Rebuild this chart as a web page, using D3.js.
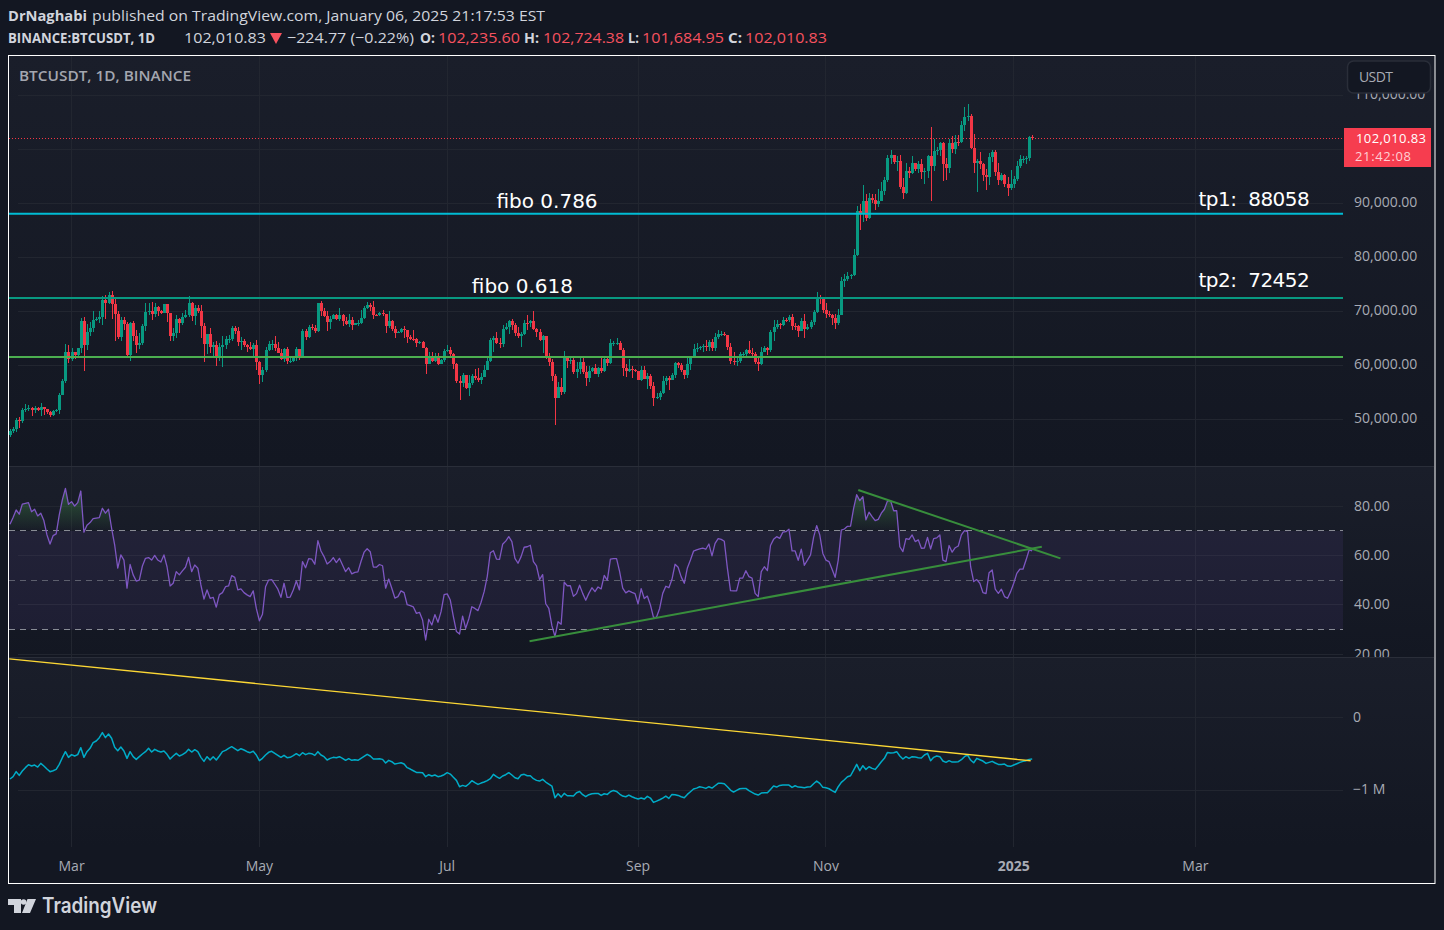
<!DOCTYPE html>
<html><head><meta charset="utf-8">
<style>
html,body{margin:0;padding:0;background:#131722;overflow:hidden}
svg{display:block}
text{font-family:"Open Sans",sans-serif;white-space:pre}
.noline .domain{display:none}
</style>
<script src="https://cdnjs.cloudflare.com/ajax/libs/d3/7.8.5/d3.min.js"></script>
</head><body><svg id="c" width="1444" height="930"></svg>
<script>
// ---------- DATA (prices in thousands of USDT, one line per month) ----------
const firstOpen = 47.13;
const closes = [
47.75,48.29,49.96,49.70,51.80,51.91,52.13,51.65,52.12,51.78,52.27,51.85,51.30,50.73,51.57,51.73,54.48,57.04,62.47,61.13,
62.39,61.99,63.13,68.24,63.80,66.10,66.90,68.30,68.50,69.02,72.12,71.48,73.07,71.39,69.50,65.30,68.39,67.60,61.94,67.84,65.50,63.80,64.04,67.21,69.88,69.99,69.45,70.78,70.00,69.64,71.33,
69.70,65.46,65.96,68.49,67.84,68.90,69.36,71.62,69.13,70.58,70.06,67.19,63.90,65.74,63.42,63.79,61.28,63.47,63.82,64.94,64.94,66.84,66.41,64.28,64.50,63.77,63.46,63.11,63.84,60.64,
58.25,59.12,62.89,63.89,64.03,63.16,62.33,61.19,63.05,60.79,60.82,61.48,62.94,61.58,66.27,65.23,67.05,66.94,66.28,71.45,70.14,69.12,67.93,68.53,69.27,68.50,69.39,68.29,67.63,68.35,67.53,
67.76,67.76,68.80,70.57,71.08,70.79,69.35,69.31,69.65,69.50,67.32,68.24,66.75,66.01,66.19,66.64,66.49,65.15,64.96,64.83,64.10,64.25,63.18,60.28,61.81,60.84,61.68,60.32,60.89,62.68,
62.77,62.02,60.20,57.03,56.64,58.23,55.86,56.71,58.05,57.72,57.34,57.89,59.20,60.79,64.72,65.04,64.09,63.97,66.71,67.15,68.16,67.53,65.93,65.37,65.80,67.90,67.81,68.25,66.78,66.19,64.62,
65.35,61.50,60.70,58.11,53.99,56.03,55.03,61.71,60.88,60.94,58.71,59.35,60.61,58.74,57.56,58.87,59.49,58.44,59.49,59.03,61.16,60.38,64.04,64.16,64.22,62.83,59.42,59.03,59.37,59.12,58.97,
57.30,59.13,57.48,57.97,56.18,53.95,54.16,54.87,57.05,57.65,57.34,58.13,60.50,60.00,59.13,58.21,60.31,61.76,62.95,63.20,63.35,63.57,63.33,64.26,63.15,65.17,65.77,65.86,65.60,63.33,
60.80,60.65,60.75,62.08,62.09,62.82,62.22,62.13,60.58,60.27,62.45,63.19,62.85,66.08,67.04,67.62,67.42,68.43,68.38,69.03,67.37,67.36,66.43,68.16,66.64,67.01,67.93,69.91,72.72,72.34,70.29,
69.49,69.37,68.78,67.81,69.36,75.64,75.90,76.54,76.68,80.37,88.65,87.95,90.38,87.25,91.07,90.58,89.85,90.47,92.31,94.29,98.35,98.92,97.67,97.90,93.01,91.96,95.96,95.65,97.46,96.41,
97.19,95.84,96.00,98.77,96.96,99.74,99.83,101.11,97.34,96.59,101.12,100.00,101.42,101.37,104.46,106.06,106.14,100.20,97.46,97.76,97.22,95.19,94.88,98.66,99.43,95.79,94.30,95.28,93.57,92.78,93.57,
94.59,96.98,98.15,98.20,98.36,102.24,102.01];
const highs = [
48.16,48.59,50.33,50.37,52.04,52.82,52.57,52.25,52.48,52.37,52.98,52.37,52.00,51.55,51.70,51.95,54.90,57.55,64.00,63.68,
63.20,62.40,63.20,68.80,69.00,67.60,67.98,70.00,68.95,70.00,72.80,73.00,73.65,73.78,72.40,70.00,68.90,68.90,68.10,68.00,68.20,66.60,65.95,67.60,71.50,71.55,71.70,71.55,70.90,70.30,71.37,
71.37,69.70,66.90,69.30,68.70,69.70,70.30,72.80,71.75,71.20,71.25,71.20,67.90,65.80,66.90,64.35,64.50,64.10,65.50,65.40,65.70,67.20,67.20,67.05,65.30,64.80,63.90,64.40,64.20,64.70,
60.78,59.60,63.30,64.50,64.60,65.50,64.40,63.00,63.20,63.45,61.40,61.80,63.40,63.10,66.70,66.80,67.40,67.70,67.50,71.50,71.95,70.60,70.10,69.20,69.50,69.50,70.60,69.50,68.90,69.50,69.00,
67.85,68.40,70.30,71.05,71.75,71.60,71.99,69.50,69.90,70.20,69.55,70.00,68.45,67.30,66.40,67.00,67.30,66.60,65.70,66.50,65.00,64.50,64.50,63.40,62.40,62.50,62.30,62.20,61.20,63.00,
63.80,63.30,62.30,60.50,58.00,58.50,58.20,58.20,58.30,59.40,59.50,58.50,60.00,61.40,65.00,65.40,66.10,65.10,67.40,67.80,68.40,68.50,67.80,67.10,66.10,68.30,69.40,68.30,70.00,66.90,66.80,
65.60,65.00,62.20,61.10,58.30,57.00,57.70,62.70,61.70,61.40,61.80,60.70,61.60,61.80,59.80,59.80,59.70,60.20,59.60,61.40,61.80,61.40,64.90,64.50,65.00,64.50,63.20,60.20,61.20,59.90,59.40,
59.00,59.80,59.80,58.50,58.30,57.00,54.80,55.30,58.10,58.00,58.00,58.60,60.70,60.60,60.40,59.20,61.30,61.80,63.90,64.10,63.60,64.00,64.70,64.70,64.80,65.90,66.50,66.30,66.10,65.60,
64.10,62.40,61.50,62.50,62.40,63.00,64.50,63.20,62.50,61.30,63.40,63.50,63.30,66.50,68.40,68.40,67.90,69.00,68.70,69.40,69.50,67.80,67.40,68.80,69.50,67.70,68.30,70.30,73.60,72.96,72.70,
71.60,70.00,69.50,69.50,70.50,76.40,76.90,77.20,76.90,81.50,89.50,89.90,93.30,91.80,91.85,91.80,91.70,92.60,94.00,94.90,99.00,99.80,98.80,98.70,98.90,94.70,97.40,96.70,98.70,97.50,
97.80,98.20,96.50,99.00,104.09,102.00,100.50,101.40,101.35,98.30,101.90,102.55,102.65,102.60,105.25,107.80,108.35,106.50,102.80,98.20,99.50,97.40,96.40,99.40,99.96,99.90,97.40,95.70,95.40,94.90,96.10,
95.00,97.80,98.97,98.80,98.80,102.50,102.72];
const lows = [
46.80,47.55,47.70,48.30,49.25,51.33,51.60,50.60,51.20,51.60,50.60,50.80,50.90,50.50,50.60,51.30,50.90,54.45,56.70,60.40,
60.80,61.10,61.30,62.30,59.00,62.80,65.50,66.20,68.20,67.80,67.40,68.60,71.30,68.50,64.50,64.80,64.55,66.60,61.50,60.80,64.50,62.30,63.00,63.80,66.40,69.30,68.40,68.90,69.10,69.50,69.60,
68.10,64.50,64.50,65.10,66.00,67.50,68.70,69.00,68.20,67.50,69.60,65.10,60.70,62.10,62.30,61.60,59.80,60.80,59.60,63.10,64.20,64.50,65.80,63.60,62.80,63.30,62.40,62.80,61.80,59.10,
56.55,56.90,58.80,62.60,62.90,62.70,62.20,60.90,60.60,60.20,60.50,60.60,60.75,60.90,61.30,64.60,65.10,66.60,65.90,66.10,69.20,68.90,66.30,66.70,68.50,68.30,68.20,67.30,67.50,67.10,66.60,
67.40,67.30,67.60,68.50,70.40,70.10,68.50,69.20,69.10,69.20,66.05,66.90,66.30,65.10,65.90,66.00,65.10,64.10,64.70,64.50,63.40,63.90,63.20,58.40,60.20,60.70,60.60,60.00,60.40,60.70,
62.50,61.80,59.40,56.80,53.50,56.00,55.70,54.30,56.30,57.20,56.90,56.50,57.80,59.20,60.60,62.40,63.90,63.20,63.30,66.60,65.80,66.50,65.40,65.10,63.40,65.70,66.60,67.10,66.50,65.30,64.50,
62.30,61.20,59.80,57.10,49.00,53.90,54.50,54.70,59.50,60.30,58.40,57.60,58.40,58.40,56.10,57.00,58.80,58.40,57.80,58.60,58.80,59.80,60.30,63.60,63.80,62.80,58.10,57.90,58.80,57.70,58.70,
57.20,57.10,57.40,55.60,55.70,52.55,53.70,53.60,54.60,56.40,55.50,57.30,57.60,59.50,58.70,57.50,57.60,59.20,61.60,62.40,62.80,62.40,62.70,62.70,62.70,62.70,64.80,65.40,65.40,62.90,
60.20,60.00,59.80,60.50,61.70,61.80,62.10,61.80,60.30,58.90,60.00,62.40,62.00,62.40,64.50,66.70,66.70,67.20,68.00,68.10,66.60,66.60,65.30,66.40,65.10,66.50,66.80,67.50,69.70,71.40,69.60,
68.80,69.00,67.50,66.80,67.50,69.30,74.50,75.60,75.90,76.50,80.20,85.10,86.60,86.70,87.10,90.10,88.70,89.40,90.40,91.50,94.00,97.20,97.20,95.90,92.60,90.80,91.80,94.60,95.40,96.00,
95.70,94.50,93.60,94.60,90.50,95.90,98.90,98.70,94.15,94.30,95.70,99.30,99.20,100.60,101.20,103.30,105.30,100.00,95.70,92.10,96.40,94.20,92.40,93.40,97.60,95.10,93.40,94.10,93.00,91.30,92.50,
92.80,94.20,96.50,97.50,97.30,97.90,101.68];
const rsi = [
72.7,75.5,78.5,76.8,80.9,81.2,81.5,77.8,78.8,76.1,
77.2,74.2,68.4,64.7,68.1,68.8,76.5,82.6,87.3,80.8,
81.9,80.1,81.5,86.2,69.5,72.3,73.4,75.0,75.2,75.4,
79.2,77.2,78.8,71.1,64.3,54.9,60.3,58.2,46.8,56.4,
52.2,49.7,50.1,55.8,58.9,59.2,58.2,60.1,58.2,57.4,
60.3,55.5,47.7,48.8,53.5,52.2,53.8,55.3,59.3,53.5,
56.2,54.9,48.1,42.4,46.1,42.7,43.1,39.1,44.2,45.0,
47.4,47.7,51.9,51.2,46.1,46.5,45.0,44.1,43.4,45.7,
38.6,33.6,36.2,47.4,50.1,50.3,48.4,46.4,43.1,48.8,
43.1,43.2,46.1,49.7,46.1,57.6,55.1,58.8,58.6,56.5,
66.1,61.9,59.6,56.6,57.6,59.2,57.2,58.9,56.2,53.5,
55.1,52.6,53.2,53.4,57.6,61.4,62.8,61.6,55.4,55.3,
56.4,55.9,46.8,50.5,46.8,42.8,43.4,45.7,45.0,40.1,
39.7,39.2,36.6,37.0,33.9,25.8,34.2,31.9,36.1,33.0,
37.3,44.2,44.5,42.0,35.3,29.2,28.2,35.5,30.5,34.3,
39.3,38.6,37.7,41.1,45.4,51.5,61.2,62.0,58.6,58.5,
64.6,65.9,67.7,65.7,58.9,56.9,59.6,63.4,63.6,64.2,
57.6,55.8,50.3,52.3,40.5,38.6,31.6,27.2,33.2,32.2,
49.2,47.8,47.8,43.5,44.6,48.0,44.7,41.9,44.7,47.0,
45.4,47.3,46.5,52.0,50.0,58.6,58.8,58.8,53.5,46.8,
44.9,45.7,45.1,44.6,40.4,46.6,42.6,43.6,40.0,35.0,
35.1,38.6,44.7,47.6,47.0,50.4,56.5,55.3,51.4,48.8,
55.0,58.2,61.8,62.3,62.7,63.0,62.6,64.7,59.9,65.0,
66.9,66.6,65.8,54.9,45.8,45.7,45.7,50.9,50.9,53.9,
51.5,50.9,44.7,43.4,53.5,55.5,53.9,64.1,66.6,67.7,
67.0,69.5,69.7,70.7,61.9,61.9,58.1,62.6,56.1,58.2,
60.3,67.4,72.2,68.4,60.9,58.2,57.6,54.5,51.2,58.2,
70.3,70.8,71.9,72.0,79.2,84.7,82.3,83.9,74.5,77.6,
75.8,74.2,74.7,77.2,78.8,82.2,82.3,78.2,78.2,63.6,
61.6,66.9,66.6,68.4,65.7,66.4,63.0,63.1,67.4,62.7,
66.9,67.2,68.4,58.2,57.6,64.1,61.4,63.2,63.9,68.4,
70.1,69.7,55.5,49.5,50.3,48.8,45.0,44.6,53.1,54.2,
46.4,44.7,46.4,43.4,42.7,45.4,48.8,52.8,54.5,54.5,
58.2,62.3,61.9];
// Lower pane series, in millions
const obv = [
-.846,-.814,-.745,-.796,-.736,-.690,-.649,-.667,-.654,-.681,
-.631,-.667,-.709,-.745,-.732,-.713,-.644,-.553,-.470,-.548,
-.511,-.530,-.511,-.415,-.548,-.470,-.424,-.346,-.323,-.277,
-.208,-.277,-.227,-.286,-.410,-.456,-.406,-.461,-.562,-.470,
-.539,-.576,-.539,-.502,-.470,-.424,-.475,-.438,-.461,-.475,
-.461,-.507,-.571,-.530,-.493,-.530,-.511,-.484,-.438,-.475,
-.443,-.470,-.548,-.603,-.539,-.585,-.539,-.585,-.530,-.470,
-.452,-.424,-.401,-.429,-.456,-.429,-.447,-.470,-.484,-.465,
-.516,-.594,-.562,-.516,-.479,-.465,-.493,-.521,-.548,-.521,
-.553,-.548,-.525,-.498,-.525,-.484,-.511,-.493,-.498,-.521,
-.470,-.516,-.539,-.585,-.562,-.548,-.553,-.539,-.562,-.589,
-.566,-.589,-.580,-.589,-.562,-.534,-.507,-.530,-.571,-.571,
-.566,-.576,-.626,-.589,-.608,-.640,-.631,-.622,-.640,-.690,
-.709,-.732,-.755,-.755,-.759,-.814,-.787,-.805,-.791,-.814,
-.805,-.787,-.759,-.778,-.823,-.865,-.952,-.934,-.947,-.915,
-.869,-.897,-.920,-.902,-.888,-.869,-.842,-.782,-.814,-.837,
-.805,-.787,-.759,-.791,-.828,-.842,-.792,-.782,-.801,-.801,
-.842,-.865,-.874,-.851,-.888,-.916,-.943,-1.104,-1.049,-1.095,
-1.044,-1.076,-1.076,-1.081,-1.035,-1.017,-1.062,-1.090,-1.062,-1.049,
-1.044,-1.044,-1.072,-1.049,-1.058,-1.021,-1.003,-1.017,-1.053,-1.081,
-1.090,-1.067,-1.090,-1.108,-1.122,-1.108,-1.122,-1.085,-1.108,-1.168,
-1.150,-1.131,-1.108,-1.081,-1.113,-1.058,-1.062,-1.072,-1.090,-1.104,
-1.058,-1.021,-.984,-.971,-.952,-.961,-.975,-.952,-.971,-.939,
-.906,-.906,-.911,-.952,-.998,-1.026,-1.003,-.980,-.975,-.975,
-1.007,-1.030,-1.053,-1.067,-1.040,-1.035,-1.035,-.989,-.943,-.957,
-.934,-.929,-.929,-.929,-.961,-.939,-.957,-.961,-.966,-.957,
-.952,-.911,-.874,-.906,-.961,-.966,-.980,-1.007,-1.030,-.952,
-.893,-.856,-.815,-.801,-.723,-.645,-.732,-.663,-.714,-.677,
-.700,-.714,-.663,-.608,-.562,-.480,-.489,-.484,-.470,-.530,
-.571,-.539,-.562,-.539,-.544,-.553,-.558,-.516,-.493,-.594,
-.548,-.530,-.539,-.599,-.617,-.594,-.613,-.613,-.608,-.581,
-.539,-.516,-.585,-.622,-.562,-.581,-.599,-.631,-.617,-.603,
-.626,-.645,-.645,-.640,-.668,-.672,-.654,-.636,-.617,-.603,
-.594,-.576,-.571];
const priceTicks = [50,60,70,80,90,100,110];
const priceLabelTicks = [50,60,70,80,90,110]; // the 100,000 label sits hidden behind the price tag
const rsiTicks = [20,40,60,80];
const obvTicks = [-1,0];
const levels = [
  {price:88.058,color:"#00bcd4"},
  {price:72.452,color:"#089981"},
  {price:61.55,color:"#4caf50"}];
const notes = [
  {text:"fibo 0.786",day:"2024-07-17",price:89.05,ls:0},
  {text:"fibo 0.618",day:"2024-07-09",price:73.3,ls:0},
  {text:"tp1:  88058",day:"2025-03-02",price:89.45,ls:-.5},
  {text:"tp2:  72452",day:"2025-03-02",price:74.55,ls:-.5}];
const rsiBands = [70,50,30];
const rsiTrends = [
  {from:"2024-07-27T18:00Z",v0:25.3,to:"2025-01-10T03:00Z",v1:63.6},
  {from:"2024-11-11T12:00Z",v0:86.6,to:"2025-01-16T04:00Z",v1:58.9}];
const obvTrend = {from:"2024-02-09T18:00Z",v0:.806,to:"2025-01-06T12:00Z",v1:-.595};
const timeTicks = [
  {d:"2024-03-01",l:"Mar"},{d:"2024-05-01",l:"May"},{d:"2024-07-01",l:"Jul"},
  {d:"2024-09-01",l:"Sep"},{d:"2024-11-01",l:"Nov"},{d:"2025-01-01",l:"2025",b:1},{d:"2025-03-01",l:"Mar"}];
const COL = {up:"#089981",down:"#f23645",text:"#a8abb4",bright:"#d1d4dc",grid:"#222630",purple:"#7e57c2",red:"#f7525f",tag:"#f63d4f"};

// ---------- SCALES ----------
const L=9,R=1343,panes=[{t:56,b:466},{t:467,b:657},{t:658,b:847}];
const day0=Date.UTC(2024,1,10), D=864e5;
const dateOf=i=>new Date(day0+i*D);
const x=d3.scaleUtc().domain([dateOf(0),dateOf(332)]).range([10,1032.2]);
const yP=d3.scaleLinear().domain([50,110]).range([419.3,95.3]);
const yR=d3.scaleLinear().domain([20,80]).range([654.3,506.3]);
const yO=d3.scaleLinear().domain([-1,0]).range([790.2,717.5]);
const tickDates=timeTicks.map(t=>new Date(t.d+"T00:00:00Z"));
const P=s=>new Date(s.length>10?s:s+"T00:00:00Z");

const svg=d3.select("#c");
const defs=svg.append("defs");
const bg=defs.append("linearGradient").attr("id","paneBg").attr("x1",0).attr("y1",0).attr("x2",0).attr("y2",1);
bg.append("stop").attr("offset",0).attr("stop-color","#1a1e2a");
bg.append("stop").attr("offset",1).attr("stop-color","#131722");
const gr=defs.append("linearGradient").attr("id","obGrad").attr("gradientUnits","userSpaceOnUse")
 .attr("x1",0).attr("x2",0).attr("y1",yR(88)).attr("y2",yR(70));
gr.append("stop").attr("offset",0).attr("stop-color","#4caf50").attr("stop-opacity",.42);
gr.append("stop").attr("offset",1).attr("stop-color","#4caf50").attr("stop-opacity",0);
panes.forEach((p,k)=>defs.append("clipPath").attr("id","clip"+k).append("rect")
  .attr("x",L).attr("y",p.t).attr("width",R-L).attr("height",p.b-p.t));
defs.append("clipPath").attr("id","above70").append("rect").attr("x",L).attr("y",467).attr("width",R-L).attr("height",yR(70)-467);
defs.append("clipPath").attr("id","rsiLabels").append("rect").attr("x",0).attr("y",467).attr("width",90).attr("height",190);

// ---------- BACKGROUND ----------
svg.append("rect").attr("width",1444).attr("height",930).attr("fill","#131722");
panes.forEach(p=>svg.append("rect").attr("x",L).attr("y",p.t).attr("width",1426).attr("height",p.b-p.t).attr("fill","url(#paneBg)"));

// ---------- GRID (from axes) ----------
function gridV(p){
  svg.append("g").attr("class","noline").attr("transform",`translate(0,${p.t})`)
   .call(d3.axisBottom(x).tickValues(tickDates).tickSize(p.b-p.t).tickFormat("").offset(0))
   .selectAll("line").attr("stroke",COL.grid).attr("shape-rendering","crispEdges");
}
panes.forEach(gridV);
function gridH(scale,ticks,k){
  svg.append("g").attr("class","noline").attr("clip-path",`url(#clip${k})`).attr("transform",`translate(${L},0)`)
   .call(d3.axisRight(scale).tickValues(ticks).tickSize(R-L).tickFormat("").offset(0))
   .selectAll("line").attr("stroke",COL.grid).attr("shape-rendering","crispEdges");
}
gridH(yP,priceTicks,0);gridH(yR,rsiTicks,1);gridH(yO,obvTicks,2);
[466.5,657.5].forEach(y=>svg.append("line").attr("x1",L).attr("x2",1434).attr("y1",y).attr("y2",y).attr("stroke","#2a2e39"));

// ---------- PRICE PANE ----------
const pane0=svg.append("g").attr("clip-path","url(#clip0)");
pane0.append("line").attr("x1",L).attr("x2",R).attr("y1",yP(closes[332])).attr("y2",yP(closes[332]))
  .attr("stroke",COL.down).attr("stroke-dasharray","1 2").attr("shape-rendering","crispEdges");
const idx=d3.range(closes.length);
const opens=idx.map(i=>i?closes[i-1]:firstOpen);
opens[332]=102.2356;
const up=i=>closes[i]>=opens[i];
pane0.append("g").selectAll("rect.w").data(idx).join("rect").attr("class","w")
  .attr("x",i=>Math.round(x(dateOf(i)))).attr("width",1)
  .attr("y",i=>yP(highs[i])).attr("height",i=>yP(lows[i])-yP(highs[i]))
  .attr("fill",i=>up(i)?COL.up:COL.down).attr("shape-rendering","crispEdges");
pane0.append("g").selectAll("rect.b").data(idx).join("rect").attr("class","b")
  .attr("x",i=>Math.round(x(dateOf(i)))-1).attr("width",3)
  .attr("y",i=>yP(Math.max(opens[i],closes[i])))
  .attr("height",i=>Math.max(1,Math.abs(yP(opens[i])-yP(closes[i]))))
  .attr("fill",i=>up(i)?COL.up:COL.down).attr("shape-rendering","crispEdges");
pane0.append("g").selectAll("line").data(levels).join("line")
  .attr("x1",L).attr("x2",R).attr("y1",d=>yP(d.price)).attr("y2",d=>yP(d.price))
  .attr("stroke",d=>d.color).attr("stroke-width",2);
svg.append("g").selectAll("text").data(notes).join("text")
  .attr("x",d=>x(P(d.day))).attr("y",d=>yP(d.price))
  .attr("fill","#fff").attr("font-size",20).style("font-family","'DejaVu Sans'").style("letter-spacing",d=>d.ls+"px").text(d=>d.text);

// ---------- RSI PANE ----------
const pane1=svg.append("g").attr("clip-path","url(#clip1)");
pane1.append("rect").attr("x",L).attr("width",R-L).attr("y",yR(70)).attr("height",yR(30)-yR(70)).attr("fill","#7e57c2").attr("fill-opacity",.1);
pane1.selectAll("line.b").data(rsiBands).join("line").attr("class","b")
  .attr("x1",L).attr("x2",R).attr("y1",d=>yR(d)).attr("y2",d=>yR(d))
  .attr("stroke",d=>d===50?"#787b86":"#9598a1").attr("stroke-opacity",d=>d===50?.7:.9)
  .attr("stroke-dasharray","6 5").attr("shape-rendering","crispEdges");
const rsiPts=rsi.map((v,i)=>[dateOf(i),v]);
pane1.append("path").attr("clip-path","url(#above70)")
  .attr("d",d3.area().x(d=>x(d[0])).y0(yR(70)).y1(d=>yR(d[1]))(rsiPts)).attr("fill","url(#obGrad)");
pane1.append("path").attr("d",d3.line().x(d=>x(d[0])).y(d=>yR(d[1]))(rsiPts))
  .attr("fill","none").attr("stroke",COL.purple).attr("stroke-width",1.3).attr("stroke-linejoin","round");
pane1.selectAll("line.t").data(rsiTrends).join("line").attr("class","t")
  .attr("x1",d=>x(P(d.from))).attr("y1",d=>yR(d.v0)).attr("x2",d=>x(P(d.to))).attr("y2",d=>yR(d.v1))
  .attr("stroke","#388e3c").attr("stroke-width",2);

// ---------- LOWER PANE ----------
const pane2=svg.append("g").attr("clip-path","url(#clip2)");
pane2.append("path").attr("d",d3.line().x((d,i)=>x(dateOf(i))).y(d=>yO(d))(obv))
  .attr("fill","none").attr("stroke","#00acc8").attr("stroke-width",1.5).attr("stroke-linejoin","round");
pane2.append("line").attr("x1",x(P(obvTrend.from))).attr("y1",yO(obvTrend.v0)).attr("x2",x(P(obvTrend.to))).attr("y2",yO(obvTrend.v1))
  .attr("stroke","#fdd835").attr("stroke-width",1.3);

// ---------- AXES ----------
function labelAxis(scale,ticks,fmt,pad,dy,clip){
  const g=svg.append("g").attr("class","noline").attr("transform","translate(1344,0)");
  if(clip) g.attr("clip-path",clip);
  g.call(d3.axisRight(scale).tickValues(ticks).tickSize(0).tickPadding(pad).tickFormat(fmt));
  g.selectAll("text").attr("fill",COL.text).attr("font-size",14).style("font-family","'Open Sans'").attr("dy",dy);
  return g;
}
labelAxis(yP,priceLabelTicks,d=>d3.format(",.2f")(d*1000),10,"0.2em");
labelAxis(yR,rsiTicks,d3.format(".2f"),10,"0.27em","url(#rsiLabels)");
labelAxis(yO,obvTicks,d=>d===0?"0":"\u22121 M",9,"0.27em");
const gT=svg.append("g").attr("class","noline").attr("transform","translate(0,856)")
  .call(d3.axisBottom(x).tickValues(tickDates).tickSize(0).tickPadding(5).tickFormat((d,i)=>timeTicks[i].l).offset(0));
gT.selectAll("text").attr("fill",COL.text).attr("font-size",14).style("font-family","'Open Sans'")
  .attr("font-weight",(d,i)=>timeTicks[i].b?700:400);

// USDT button (drawn over the clipped 110,000 label)
svg.append("rect").attr("x",1347.5).attr("y",61).attr("width",83).attr("height",32).attr("rx",6)
  .attr("fill","#131722").attr("stroke","#2a2e39").attr("stroke-width",1.5);
svg.append("text").attr("x",1359).attr("y",82).attr("fill",COL.text).attr("font-size",14).attr("textLength",34).text("USDT");

// Price tag
svg.append("rect").attr("x",1344).attr("y",128).attr("width",87).attr("height",39).attr("fill",COL.tag);
svg.append("text").attr("x",1356).attr("y",142.5).attr("fill","#fff").attr("font-size",13).attr("textLength",70).text(d3.format(",.2f")(102010.83));
svg.append("text").attr("x",1355).attr("y",160.5).attr("fill","#ffd0d4").attr("font-size",13).attr("textLength",56).text("21:42:08");

// Title in chart
svg.append("text").attr("x",19).attr("y",81).attr("fill","#a3a6af").attr("font-size",15).attr("font-weight",600)
  .attr("textLength",172).attr("lengthAdjust","spacingAndGlyphs").text("BTCUSDT, 1D, BINANCE");

// ---------- HEADER ----------
const hdr=svg.append("g").attr("font-size",15);
[
 {x:8,y:21,w:79,t:"DrNaghabi",b:1,c:COL.bright},
 {x:92,y:21,w:453,t:"published on TradingView.com, January 06, 2025 21:17:53 EST",c:COL.bright},
 {x:8,y:43,w:147,t:"BINANCE:BTCUSDT, 1D",b:1,c:COL.bright},
 {x:184,y:43,w:82,t:"102,010.83",c:COL.bright},
 {x:287,y:43,w:127,t:"\u2212224.77 (\u22120.22%)",c:COL.bright},
 {x:420,y:43,w:15,t:"O:",b:1,c:COL.bright},{x:438,y:43,w:82,t:"102,235.60",c:COL.red},
 {x:524,y:43,w:15,t:"H:",b:1,c:COL.bright},{x:543,y:43,w:81,t:"102,724.38",c:COL.red},
 {x:628,y:43,w:11,t:"L:",b:1,c:COL.bright},{x:642,y:43,w:82,t:"101,684.95",c:COL.red},
 {x:728,y:43,w:14,t:"C:",b:1,c:COL.bright},{x:745,y:43,w:82,t:"102,010.83",c:COL.red}
].forEach(d=>hdr.append("text").attr("x",d.x).attr("y",d.y).attr("fill",d.c).attr("font-weight",d.b?700:400)
   .attr("textLength",d.w).attr("lengthAdjust","spacingAndGlyphs").text(d.t));
svg.append("path").attr("d",d3.line()([[270,33],[282,33],[276,44]])+"Z").attr("fill",COL.red);

// Frame
svg.append("rect").attr("x",8.5).attr("y",55.5).attr("width",1426.5).attr("height",828).attr("fill","none").attr("stroke","#fff");

// Logo
svg.append("path").attr("fill","#d1d4dc").attr("d","M8 899h13v14h-7v-8h-6zM27.5 899H36l-6 14h-8z");
svg.append("circle").attr("cx",23.6).attr("cy",902).attr("r",2.8).attr("fill","#d1d4dc");
svg.append("text").attr("x",42).attr("y",913).attr("fill","#d1d4dc").attr("font-size",21).attr("font-weight",600).style("font-family","Inter")
  .attr("textLength",115).attr("lengthAdjust","spacingAndGlyphs").text("TradingView");
</script></body></html>
